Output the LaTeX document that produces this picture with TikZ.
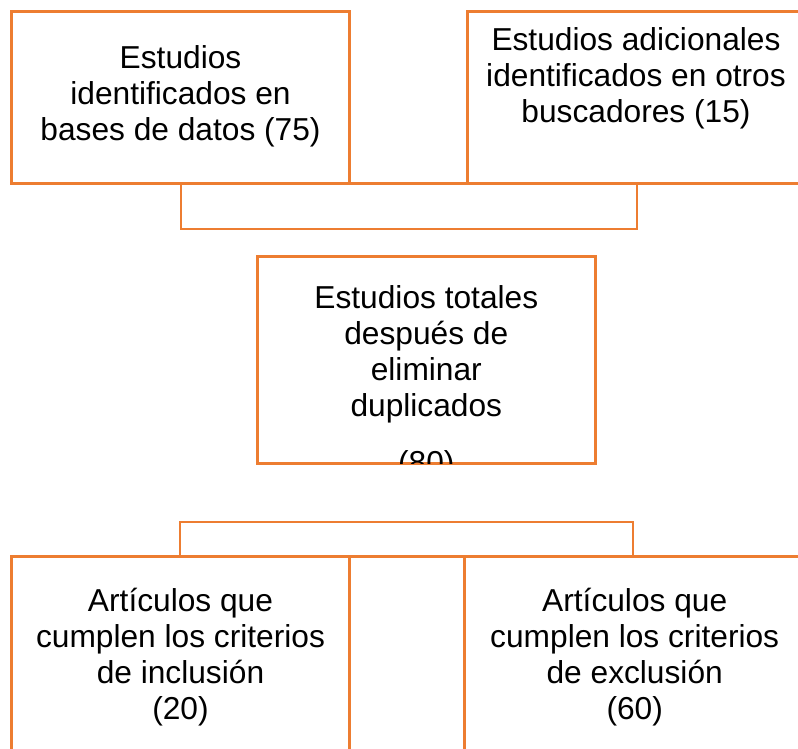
\documentclass[tikz,border=0pt]{standalone}
\usepackage{fontspec}
\setmainfont{Liberation Sans}
\usepackage{tikz}
\usetikzlibrary{calc,positioning}
\definecolor{boxorange}{RGB}{237,125,49}
\tikzset{
  box/.style={draw=boxorange, line width=3pt, minimum width=338pt,
    inner sep=0pt, outer sep=0pt},
  link/.style={draw=boxorange, line width=2pt},
  boxtext/.style={anchor=north, align=center, inner sep=0pt,
    font=\fontsize{31.7}{36.2}\selectfont},
}

\begin{document}
\begin{tikzpicture}[x=1pt, y=-1pt]
\useasboundingbox (0,0) rectangle (798,749);
\clip (0,0) rectangle (798,749);

% search sources
\node[box, minimum height=171.5pt] (bd) at (180.6,97.25) {};
\node[box, minimum height=171.5pt] (ob) at (636.9,97.25) {};
\node[boxtext] (bdtxt) at (180.5,45) {Estudios\\identificados en\\bases de datos (75)};
\node[boxtext] (obtxt) at (636,27) {Estudios adicionales\\identificados en otros\\buscadores (15)};

% join of the two sources
\draw[link] (bd.south) -- ++(0,46) -| (ob.south);
\draw[box] (bd.south east) -- (ob.south west);

% total after duplicates
\node[box, minimum height=207.3pt] (tot) at (426.3,359.65) {};
\begin{scope}
  \clip (tot.north west) rectangle (tot.south east);
  \node[boxtext] (tottxt) at (426.3,285) {Estudios totales\\después de\\eliminar\\duplicados\\[20.8pt](80)};
\end{scope}

% screened articles
\node[box, minimum height=219.4pt] (inc) at (180.2,666) {};
\node[box, minimum height=219.4pt] (exc) at (633,666) {};
\node[boxtext] (inctxt) at (180.5,587.5) {Artículos que\\cumplen los criterios\\de inclusión\\(20)};
\node[boxtext] (exctxt) at (634.7,587.5) {Artículos que\\cumplen los criterios\\de exclusión\\(60)};

\draw[link] (inc.north) -- ++(0,-34) -| (exc.north);
\draw[box] (inc.north east) -- (exc.north west);

\end{tikzpicture}
\end{document}
